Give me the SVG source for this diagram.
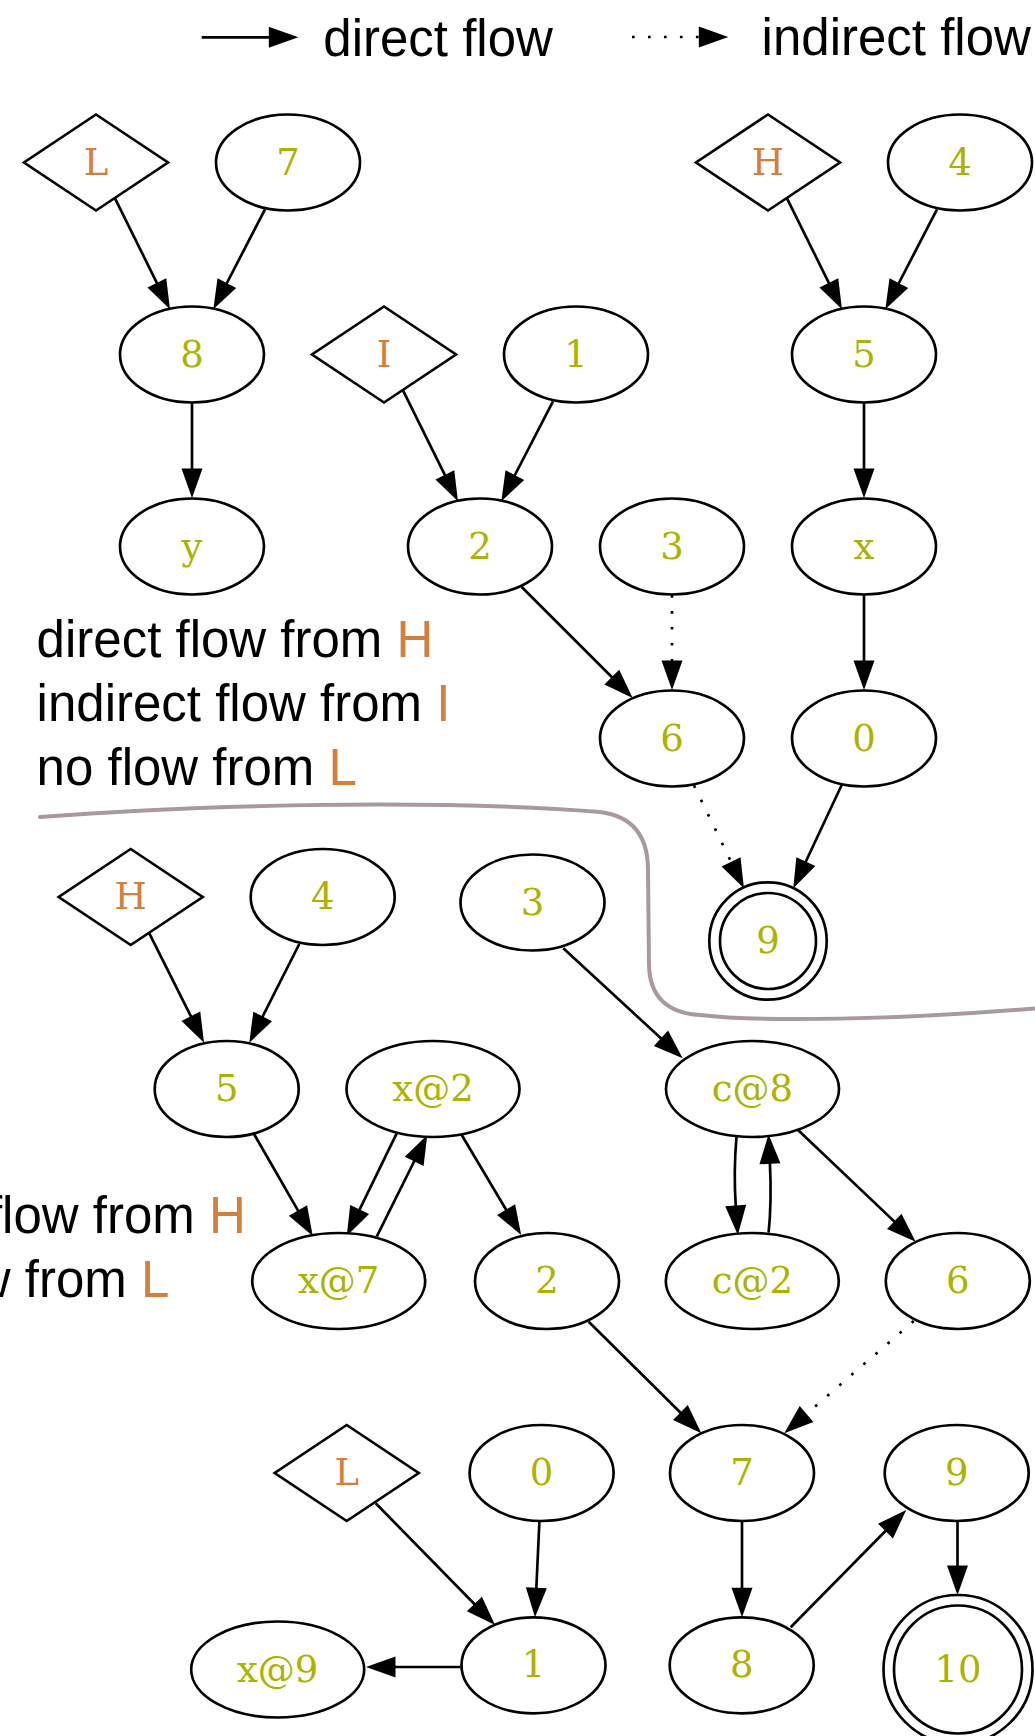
<svg xmlns="http://www.w3.org/2000/svg" width="1035" height="1736" viewBox="0 0 1035 1736">
  <defs>
    <style>
      .shape { fill: #ffffff; stroke: #000000; stroke-width: 2.67; }
      .lbl { font-family: "DejaVu Serif", "Liberation Serif", serif; font-size: 37px; text-anchor: middle; fill: #aab300; }
      .src { fill: #d47f3b; }
      .edge { fill: none; stroke: #000000; stroke-width: 2.67; marker-end: url(#arrow); }
      .dot { stroke-dasharray: 2.67 13.3; }
      .note { font-family: "Liberation Sans", Arial, sans-serif; font-size: 51px; fill: #000000; }
      .hl { fill: #d47f3b; }
      .divider { fill: none; stroke: #a9999c; stroke-width: 4; stroke-linecap: round; }
    </style>
    <marker id="arrow" markerUnits="userSpaceOnUse" markerWidth="40" markerHeight="30" viewBox="-2 -15 40 30" refX="0" refY="0" orient="auto" overflow="visible">
      <path d="M-1,-10.5 L28.5,0 L-1,10.5 Z" fill="#000000"/>
    </marker>
  </defs>

  <rect x="0" y="0" width="1035" height="1736" fill="#ffffff"/>

  <!-- legend -->
  <g id="legend">
    <path class="edge" d="M201.7,37.3 L269.8,37.3"/>
    <text class="note" x="323.3" y="56">direct flow</text>
    <path class="edge dot" d="M632,37 L699.8,37"/>
    <text class="note" x="761.6" y="55">indirect flow</text>
  </g>

  <!-- captions -->
  <g id="caption-top">
    <text class="note" x="36.6" y="657">direct flow from <tspan class="hl">H</tspan></text>
    <text class="note" x="36.6" y="721">indirect flow from <tspan class="hl">I</tspan></text>
    <text class="note" x="36.6" y="785">no flow from <tspan class="hl">L</tspan></text>
  </g>
  <g id="caption-bottom">
    <text class="note" x="-151" y="1233">direct flow from <tspan class="hl">H</tspan></text>
    <text class="note" x="-151" y="1297">no flow from <tspan class="hl">L</tspan></text>
  </g>

  <!-- separator between the two graphs -->
  <path id="divider" class="divider" d="M40,817 C180,806 420,798 600,812 Q648,818 648,870 L649,965 Q650,1012 700,1015 C760,1022 900,1020 1040,1008"/>

  <!-- connectors -->
  <g id="edges">
    <!-- upper graph -->
    <path class="edge" d="M115,198.3 L157.3,283.8"/>
    <path class="edge" d="M265,209.3 L226.4,284"/>
    <path class="edge" d="M787,198.3 L829.3,283.8"/>
    <path class="edge" d="M937,209.3 L898.4,284"/>
    <path class="edge" d="M192,403 L192,469.5"/>
    <path class="edge" d="M403,390.3 L445.3,475.8"/>
    <path class="edge" d="M553,401.3 L514.4,476"/>
    <path class="edge" d="M864,403 L864,469.5"/>
    <path class="edge" d="M521.7,587 L612.5,677.8"/>
    <path class="edge dot" d="M672,595 L672,661.5"/>
    <path class="edge" d="M864,595 L864,661.5"/>
    <path class="edge dot" d="M694,785.4 L731.5,862.7"/>
    <path class="edge" d="M841.7,785 L805.4,862.5"/>
    <!-- lower graph -->
    <path class="edge" d="M149.3,933.3 L191.3,1017.2"/>
    <path class="edge" d="M299.3,944 L262.2,1017.3"/>
    <path class="edge" d="M254,1134 L298.5,1211.3"/>
    <path class="edge" d="M396.7,1133.3 L359.2,1210.4"/>
    <path class="edge" d="M376.7,1236.7 L414.6,1160.5"/>
    <path class="edge" d="M461.7,1135 L506.6,1210.5"/>
    <path class="edge" d="M563.3,948.3 L661.7,1039"/>
    <path class="edge" d="M736.5,1136.7 C734.5,1160 734.5,1188 735.8,1206.5"/>
    <path class="edge" d="M768.6,1232.7 C771,1210 771,1186 769.9,1162.8"/>
    <path class="edge" d="M798,1130 L895,1222.1"/>
    <path class="edge dot" d="M913.7,1321 L805.8,1414.6"/>
    <path class="edge" d="M588.7,1321.7 L681.1,1413.2"/>
    <path class="edge" d="M375.7,1503.3 L475.1,1604.7"/>
    <path class="edge" d="M539.4,1521.7 L536.3,1588.8"/>
    <path class="edge" d="M460.7,1667 L394.5,1667"/>
    <path class="edge" d="M742,1521.7 L742,1588.8"/>
    <path class="edge" d="M790.7,1627.3 L886.2,1530.3"/>
    <path class="edge" d="M957.5,1521.7 L957.5,1566.5"/>
  </g>

  <!-- upper graph nodes -->
  <g id="a-L"><polygon class="shape" points="96,114.5 168,162.5 96,210.5 24,162.5"/><text class="lbl src" x="96" y="174.5">L</text></g>
  <g id="a-7"><ellipse class="shape" cx="288" cy="162.5" rx="72" ry="48"/><text class="lbl" x="288" y="174.5">7</text></g>
  <g id="a-H"><polygon class="shape" points="768,114.5 840,162.5 768,210.5 696,162.5"/><text class="lbl src" x="768" y="174.5">H</text></g>
  <g id="a-4"><ellipse class="shape" cx="960" cy="162.5" rx="72" ry="48"/><text class="lbl" x="960" y="174.5">4</text></g>
  <g id="a-8"><ellipse class="shape" cx="192" cy="354.5" rx="72" ry="48"/><text class="lbl" x="192" y="366.5">8</text></g>
  <g id="a-I"><polygon class="shape" points="384,306.5 456,354.5 384,402.5 312,354.5"/><text class="lbl src" x="384" y="366.5">I</text></g>
  <g id="a-1"><ellipse class="shape" cx="576" cy="354.5" rx="72" ry="48"/><text class="lbl" x="576" y="366.5">1</text></g>
  <g id="a-5"><ellipse class="shape" cx="864" cy="354.5" rx="72" ry="48"/><text class="lbl" x="864" y="366.5">5</text></g>
  <g id="a-y"><ellipse class="shape" cx="192" cy="546.5" rx="72" ry="48"/><text class="lbl" x="192" y="558.5">y</text></g>
  <g id="a-2"><ellipse class="shape" cx="480" cy="546.5" rx="72" ry="48"/><text class="lbl" x="480" y="558.5">2</text></g>
  <g id="a-3"><ellipse class="shape" cx="672" cy="546.5" rx="72" ry="48"/><text class="lbl" x="672" y="558.5">3</text></g>
  <g id="a-x"><ellipse class="shape" cx="864" cy="546.5" rx="72" ry="48"/><text class="lbl" x="864" y="558.5">x</text></g>
  <g id="a-6"><ellipse class="shape" cx="672" cy="738.5" rx="72" ry="48"/><text class="lbl" x="672" y="750.5">6</text></g>
  <g id="a-0"><ellipse class="shape" cx="864" cy="738.5" rx="72" ry="48"/><text class="lbl" x="864" y="750.5">0</text></g>
  <g id="a-9"><circle class="shape" cx="768" cy="941" r="58.7"/><circle class="shape" cx="768" cy="941" r="48"/><text class="lbl" x="768" y="953">9</text></g>

  <!-- lower graph nodes -->
  <g id="b-H"><polygon class="shape" points="130.7,849 202.7,897 130.7,945 58.7,897"/><text class="lbl src" x="130.7" y="909">H</text></g>
  <g id="b-4"><ellipse class="shape" cx="322.7" cy="897" rx="72" ry="48"/><text class="lbl" x="322.7" y="909">4</text></g>
  <g id="b-3"><ellipse class="shape" cx="532.5" cy="902.5" rx="72" ry="48"/><text class="lbl" x="532.5" y="914.5">3</text></g>
  <g id="b-5"><ellipse class="shape" cx="226.7" cy="1089" rx="72" ry="48"/><text class="lbl" x="226.7" y="1101">5</text></g>
  <g id="b-x2"><ellipse class="shape" cx="433" cy="1089" rx="86.5" ry="48"/><text class="lbl" x="433" y="1101">x@2</text></g>
  <g id="b-c8"><ellipse class="shape" cx="752.5" cy="1089" rx="86.5" ry="48"/><text class="lbl" x="752.5" y="1101">c@8</text></g>
  <g id="b-x7"><ellipse class="shape" cx="338.7" cy="1281" rx="86.5" ry="48"/><text class="lbl" x="338.7" y="1293">x@7</text></g>
  <g id="b-2"><ellipse class="shape" cx="547" cy="1281" rx="72" ry="48"/><text class="lbl" x="547" y="1293">2</text></g>
  <g id="b-c2"><ellipse class="shape" cx="752.3" cy="1281" rx="86.5" ry="48"/><text class="lbl" x="752.3" y="1293">c@2</text></g>
  <g id="b-6"><ellipse class="shape" cx="957.8" cy="1281" rx="72" ry="48"/><text class="lbl" x="957.8" y="1293">6</text></g>
  <g id="b-L"><polygon class="shape" points="346.7,1425 418.7,1473 346.7,1521 274.7,1473"/><text class="lbl src" x="346.7" y="1485">L</text></g>
  <g id="b-0"><ellipse class="shape" cx="541.6" cy="1473" rx="72" ry="48"/><text class="lbl" x="541.6" y="1485">0</text></g>
  <g id="b-7"><ellipse class="shape" cx="742" cy="1473" rx="72" ry="48"/><text class="lbl" x="742" y="1485">7</text></g>
  <g id="b-9"><ellipse class="shape" cx="956.7" cy="1473" rx="72" ry="48"/><text class="lbl" x="956.7" y="1485">9</text></g>
  <g id="b-x9"><ellipse class="shape" cx="277.7" cy="1669.5" rx="86.5" ry="48"/><text class="lbl" x="277.7" y="1681.5">x@9</text></g>
  <g id="b-1"><ellipse class="shape" cx="533.5" cy="1665.3" rx="72" ry="48"/><text class="lbl" x="533.5" y="1677.3">1</text></g>
  <g id="b-8"><ellipse class="shape" cx="741.7" cy="1665.3" rx="72" ry="48"/><text class="lbl" x="741.7" y="1677.3">8</text></g>
  <g id="b-10"><circle class="shape" cx="958" cy="1669.5" r="74.5"/><circle class="shape" cx="958" cy="1669.5" r="64"/><text class="lbl" x="958" y="1681.5">10</text></g>
</svg>
